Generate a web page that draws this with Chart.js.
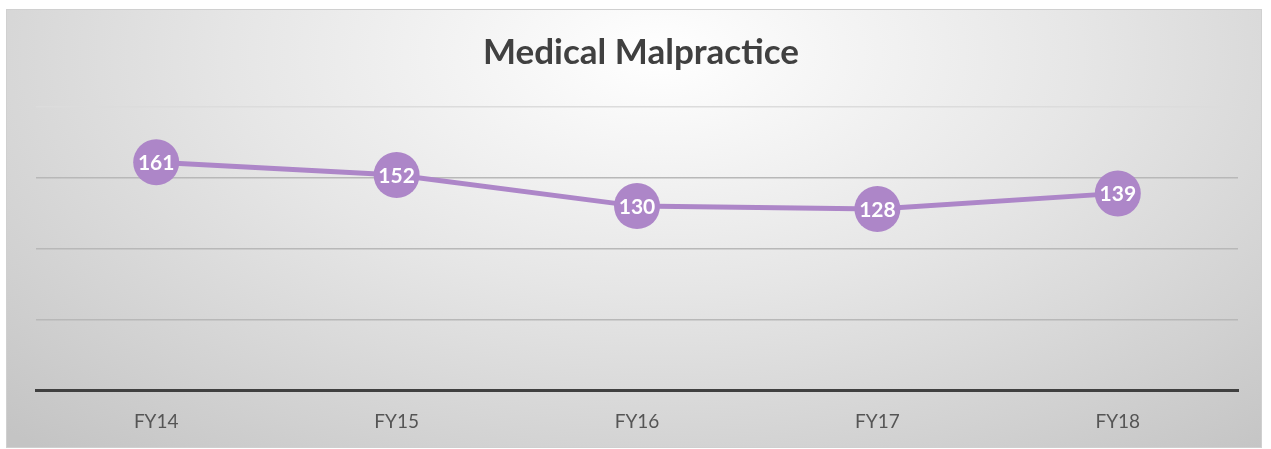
<!DOCTYPE html>
<html>
<head>
<meta charset="utf-8">
<script src="https://cdn.jsdelivr.net/npm/chart.js@4.4.0/dist/chart.umd.min.js"></script>
<style>
  html, body { margin: 0; padding: 0; background: #fff; overflow: hidden; }
  #box {
    position: absolute; left: 6px; top: 9px; width: 1256px; height: 439px;
    border: 1px solid #d0d0d0; box-sizing: border-box;
    background: radial-gradient(ellipse 75% 120% at 52% 10%, #ffffff 0%, #e6e6e6 45%, #c4c4c4 100%);
  }
  canvas { display: block; }
</style>
</head>
<body>
<div id="box"><canvas id="malChart" width="1254" height="443"></canvas></div>
<script>
const years = ["FY14", "FY15", "FY16", "FY17", "FY18"];
const cases = [161, 152, 130, 128, 139];
const yTicks = [0, 50, 100, 150, 200];

const purple = "#ad86c8";

// write the value inside each marker
const pointLabels = {
  id: "pointLabels",
  afterDatasetsDraw(chart) {
    const ctx = chart.ctx;
    const meta = chart.getDatasetMeta(0);
    ctx.save();
    ctx.fillStyle = "#ffffff";
    ctx.font = "bold 21px Lato";
    ctx.textAlign = "center";
    ctx.textBaseline = "middle";
    meta.data.forEach((pt, i) => {
      ctx.fillText(cases[i], pt.x, pt.y + 1);
    });
    ctx.restore();
  }
};

let canvasElement = document.querySelector("#malChart");

let config = {
  type: "line",
  data: {
    labels: years,
    datasets: [{
      data: cases,
      borderColor: purple,
      backgroundColor: purple,
      borderWidth: 5,
      pointRadius: 23,
      pointHoverRadius: 23,
      pointBorderWidth: 0,
      tension: 0
    }]
  },
  options: {
    responsive: false,
    animation: false,
    layout: { padding: { left: 29, right: 15, top: 0, bottom: 0 } },
    plugins: {
      legend: { display: false },
      tooltip: { enabled: false },
      title: {
        display: true,
        text: "Medical Malpractice",
        color: "#404040",
        font: { family: "Lato", size: 35, weight: "bold" },
        padding: { top: 22, bottom: 33 }
      }
    },
    scales: {
      x: {
        offset: true,
        grid: { display: false, drawTicks: false },
        border: { display: true, color: "#404040", width: 3 },
        ticks: { color: "#555555", font: { family: "Lato", size: 19 }, padding: 20 }
      },
      y: {
        min: 0,
        max: 200,
        afterBuildTicks: axis => { axis.ticks = yTicks.map(v => ({ value: v })); },
        ticks: { display: false },
        border: { display: false },
        grid: {
          drawTicks: false,
          lineWidth: 1.5,
          color: c => c.tick.value === 200 ? "#dcdcdc" : (c.tick.value === 0 ? "rgba(0,0,0,0)" : "#b8b8b8")
        }
      }
    }
  },
  plugins: [pointLabels]
};

let malChart = new Chart(canvasElement, config);
</script>
</body>
</html>
